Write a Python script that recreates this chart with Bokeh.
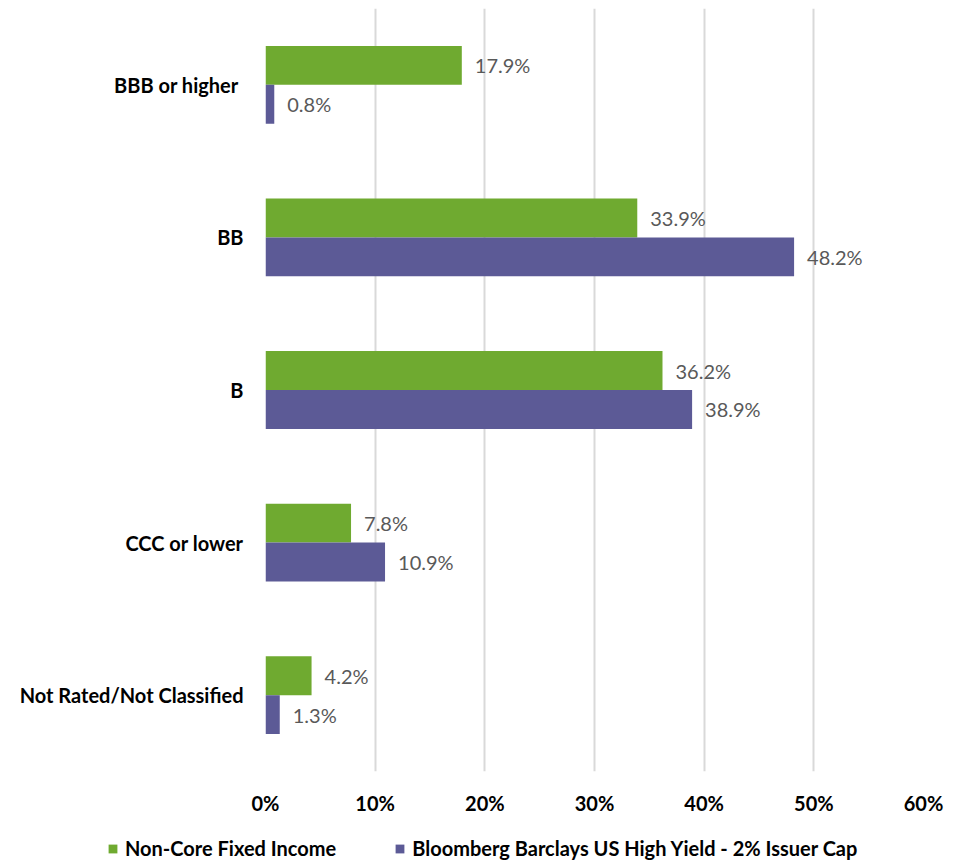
from bokeh.plotting import figure
from bokeh.layouts import column
from bokeh.models import ColumnDataSource, FactorRange, Range1d, Legend, LegendItem, FixedTicker, PrintfTickFormatter
from bokeh.transform import dodge
from bokeh.embed import file_html
from bokeh.resources import INLINE

categories = ["BBB  or higher", "BB", "B", "CCC or lower", "Not Rated/Not Classified"]
noncore = [17.9, 33.9, 36.2, 7.8, 4.2]
bloomberg = [0.8, 48.2, 38.9, 10.9, 1.3]
x_ticks = [0, 10, 20, 30, 40, 50, 60]
series_names = ["Non-Core Fixed Income", "Bloomberg Barclays US High Yield - 2% Issuer Cap"]

GREEN = "#6FAA30"
PURPLE = "#5C5A96"
FONT = "Lato"

src = ColumnDataSource(dict(
    cat=categories,
    a=noncore,
    b=bloomberg,
    a_lab=[f"{v:.1f}%" for v in noncore],
    b_lab=[f"{v:.1f}%" for v in bloomberg],
))

W = 958
p = figure(width=W, height=822, output_backend="svg", toolbar_location=None,
           y_range=FactorRange(factors=list(reversed(categories)), range_padding=0),
           x_range=Range1d(0, 60))
p.frame_align = False
p.min_border_top = 8
p.min_border_left = 265
p.min_border_right = 35
p.min_border_bottom = 51
p.outline_line_color = None
p.background_fill_color = "white"
p.border_fill_color = "white"

off = 0.1275
h = 0.255
p.hbar(y=dodge("cat", off, range=p.y_range), right="a", left=0, height=h, source=src,
       fill_color=GREEN, line_color=None)
p.hbar(y=dodge("cat", -off, range=p.y_range), right="b", left=0, height=h, source=src,
       fill_color=PURPLE, line_color=None)

p.text(x="a", y=dodge("cat", off, range=p.y_range), text="a_lab", source=src, x_offset=13,
       text_baseline="middle", text_align="left", text_font_size="20px", text_color="#595959",
       text_font={"value": FONT})
p.text(x="b", y=dodge("cat", -off, range=p.y_range), text="b_lab", source=src, x_offset=13,
       text_baseline="middle", text_align="left", text_font_size="20px", text_color="#595959",
       text_font={"value": FONT})

p.xaxis.ticker = FixedTicker(ticks=x_ticks)
p.xaxis.formatter = PrintfTickFormatter(format="%d%%")
for ax in (p.xaxis[0], p.yaxis[0]):
    ax.axis_line_color = None
    ax.major_tick_line_color = None
    ax.minor_tick_line_color = None
    ax.major_tick_out = 0
    ax.major_tick_in = 0
    ax.minor_tick_out = 0
    ax.major_label_text_font = FONT
    ax.major_label_text_font_style = "bold"
    ax.major_label_text_font_size = "20px"
    ax.major_label_text_color = "#000000"
p.xaxis.major_label_standoff = 19
p.yaxis.major_label_standoff = 22

p.ygrid.grid_line_color = None
p.xgrid.grid_line_color = "#D9D9D9"
p.xgrid.grid_line_width = 2

# legend strip: hidden renderers only supply the legend swatches
lf = figure(width=W, height=38, output_backend="svg", toolbar_location=None,
            x_range=Range1d(0, 1), y_range=Range1d(0, 1),
            x_axis_type=None, y_axis_type=None, min_border=0)
lf.frame_align = False
lf.outline_line_color = None
lf.grid.grid_line_color = None
la = lf.hbar(y="a", right="a", height=0.5, source=src, fill_color=GREEN, line_color=None)
lb = lf.hbar(y="a", right="b", height=0.5, source=src, fill_color=PURPLE, line_color=None)
la.visible = False
lb.visible = False

legend = Legend(items=[LegendItem(label=series_names[0], renderers=[la]),
                       LegendItem(label=series_names[1], renderers=[lb])],
                location=(107, 0), orientation="horizontal")
legend.label_text_font = FONT
legend.label_text_font_style = "bold"
legend.label_text_font_size = "20px"
legend.label_text_color = "#000000"
legend.glyph_width = 11
legend.glyph_height = 11
legend.label_standoff = 7
legend.spacing = 58
legend.padding = 0
legend.margin = 0
legend.label_height = 20
legend.border_line_color = None
legend.background_fill_alpha = 0
legend.inactive_fill_alpha = 0
lf.add_layout(legend, "center")

layout = column(p, lf, spacing=0)
open("out.html", "w").write(file_html(layout, INLINE))
